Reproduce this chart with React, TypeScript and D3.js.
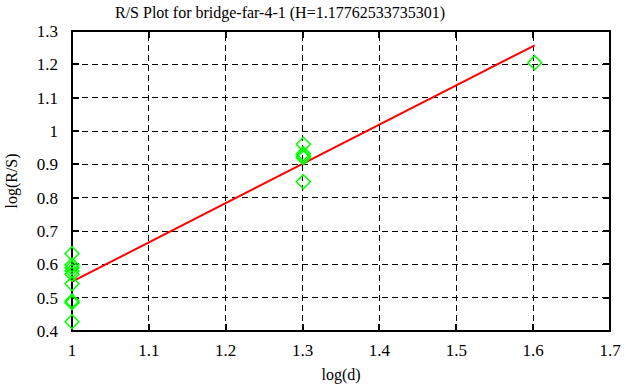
import React from "react";
import * as d3 from "d3";

// observed points, grouped by log(d)
const xValues = [1, 1, 1, 1, 1, 1, 1, 1, 1, 1.30103, 1.30103, 1.30103, 1.30103, 1.30103, 1.60206];
const yValues = [0.632, 0.598, 0.59, 0.58, 0.57, 0.542, 0.49, 0.485, 0.428, 0.96, 0.932, 0.925, 0.92, 0.848, 1.205];

// fitted line
const hurst = 1.17762533735301;
const intercept = 0.548 - hurst;
const fitRange = [1, 1.60206];

const xTicks = [1, 1.1, 1.2, 1.3, 1.4, 1.5, 1.6, 1.7];
const yTicks = [0.4, 0.5, 0.6, 0.7, 0.8, 0.9, 1, 1.1, 1.2, 1.3];

const W = 626, H = 387;
const margin = { top: 31, right: 16, bottom: 56, left: 72 };
const font = "'Liberation Serif', 'DejaVu Serif', serif";

export default function App() {
  const x = d3.scaleLinear().domain([1, 1.7]).range([margin.left, W - margin.right]);
  const y = d3.scaleLinear().domain([0.4, 1.3]).range([H - margin.bottom, margin.top]);
  const [x0, x1] = x.range();
  const [yb, yt] = y.range();
  const tick = 7;

  const fit = d3.line<number>().x(d => x(d)).y(d => y(intercept + hurst * d));
  const diamond = (cx: number, cy: number, r = 7) =>
    `M${cx},${cy - r}L${cx + r},${cy}L${cx},${cy + r}L${cx - r},${cy}Z`;

  return (
    <div style={{ position: "absolute", left: 0, top: 0 }}>
      <svg width={W} height={H} style={{ display: "block", background: "#fff" }} fontFamily={font}>
        <rect width={W} height={H} fill="#fff" />
        {/* grid */}
        <g stroke="#000" strokeWidth={1} strokeDasharray="6,4" shapeRendering="crispEdges">
          {xTicks.slice(1, -1).map(t => (
            <line key={"gx" + t} x1={x(t)} x2={x(t)} y1={yb} y2={yt} />
          ))}
          {yTicks.slice(1, -1).map(t => (
            <line key={"gy" + t} x1={x0} x2={x1} y1={y(t)} y2={y(t)} />
          ))}
        </g>
        {/* inward ticks on all sides */}
        <g stroke="#000" strokeWidth={2} shapeRendering="crispEdges">
          {xTicks.map(t => (
            <g key={"tx" + t}>
              <line x1={x(t)} x2={x(t)} y1={yb} y2={yb - tick} />
              <line x1={x(t)} x2={x(t)} y1={yt} y2={yt + tick} />
            </g>
          ))}
          {yTicks.map(t => (
            <g key={"ty" + t}>
              <line x1={x0} x2={x0 + tick} y1={y(t)} y2={y(t)} />
              <line x1={x1} x2={x1 - tick} y1={y(t)} y2={y(t)} />
            </g>
          ))}
        </g>
        <rect x={x0} y={yt} width={x1 - x0} height={yb - yt} fill="none" stroke="#000" strokeWidth={2} shapeRendering="crispEdges" />
        {/* tick labels */}
        <g fontSize={17} fill="#000">
          {xTicks.map(t => (
            <text key={"lx" + t} x={x(t)} y={yb + 25} textAnchor="middle">{d3.format("")(t)}</text>
          ))}
          {yTicks.map(t => (
            <text key={"ly" + t} x={x0 - 14} y={y(t) + 6} textAnchor="end">{d3.format("")(t)}</text>
          ))}
        </g>
        {/* fit line */}
        <path d={fit(fitRange) || ""} fill="none" stroke="#ff0000" strokeWidth={2} />
        {/* points */}
        <g fill="none" stroke="#00ff00" strokeWidth={1.5}>
          {xValues.map((v, i) => (
            <path key={"p" + i} d={diamond(x(v), y(yValues[i]))} />
          ))}
        </g>
        {/* titles */}
        <text x={280} y={18} textAnchor="middle" fontSize={16}>
          R/S Plot for bridge-far-4-1 (H={hurst})
        </text>
        <text x={(x0 + x1) / 2} y={380} textAnchor="middle" fontSize={16}>log(d)</text>
        <text transform={`translate(17,${(yb + yt) / 2}) rotate(-90)`} textAnchor="middle" fontSize={16}>
          log(R/S)
        </text>
      </svg>
    </div>
  );
}
